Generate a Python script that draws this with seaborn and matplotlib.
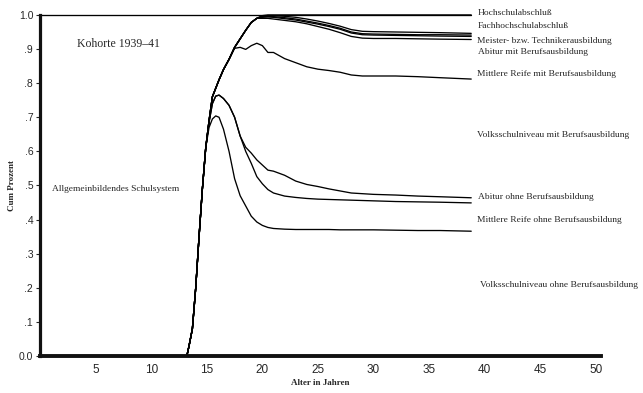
import matplotlib
matplotlib.use("Agg")
import matplotlib.pyplot as plt
import numpy as np
import pandas as pd
import seaborn as sns

# Alter in Jahren (gemeinsames Raster für alle kumulierten Kurven)
alter = [0, 13.2, 13.4, 13.7, 14.0, 14.3, 14.6, 14.9, 15.2, 15.5, 15.8, 16.1,
         16.5, 17.0, 17.5, 18.0, 18.5, 19.0, 19.5, 20.0, 20.5, 21, 22, 23, 24,
         25, 26, 27, 28, 29, 30, 32, 34, 36, 38.8]

# Kumulierte Anteile (Obergrenzen der Ausbildungsstufen), von unten nach oben
volksschule_ohne = [0, 0, 0.03, 0.08, 0.20, 0.35, 0.49, 0.61, 0.67, 0.695, 0.704, 0.70,
                    0.665, 0.60, 0.52, 0.47, 0.44, 0.41, 0.393, 0.383, 0.377, 0.374, 0.372, 0.371, 0.371,
                    0.371, 0.371, 0.370, 0.370, 0.370, 0.370, 0.369, 0.368, 0.368, 0.366]
mittlere_reife_ohne = [0, 0, 0.03, 0.08, 0.20, 0.35, 0.49, 0.61, 0.685, 0.74, 0.762, 0.765,
                       0.755, 0.735, 0.70, 0.645, 0.60, 0.565, 0.526, 0.505, 0.488, 0.478, 0.469, 0.465, 0.462,
                       0.460, 0.459, 0.458, 0.457, 0.456, 0.455, 0.453, 0.452, 0.451, 0.449]
abitur_ohne = [0, 0, 0.03, 0.08, 0.20, 0.35, 0.49, 0.61, 0.685, 0.74, 0.762, 0.765,
               0.755, 0.735, 0.70, 0.645, 0.612, 0.595, 0.575, 0.56, 0.545, 0.542, 0.53, 0.513, 0.503,
               0.497, 0.490, 0.484, 0.478, 0.476, 0.474, 0.472, 0.469, 0.467, 0.464]
volksschule_mit = [0, 0, 0.03, 0.08, 0.20, 0.35, 0.49, 0.61, 0.69, 0.76, 0.785, 0.81,
                   0.84, 0.87, 0.902, 0.905, 0.899, 0.91, 0.917, 0.91, 0.89, 0.89, 0.872, 0.86, 0.848,
                   0.841, 0.837, 0.832, 0.824, 0.821, 0.821, 0.821, 0.819, 0.816, 0.812]
mittlere_reife_mit = [0, 0, 0.03, 0.08, 0.20, 0.35, 0.49, 0.61, 0.69, 0.76, 0.785, 0.81,
                      0.84, 0.87, 0.905, 0.93, 0.955, 0.978, 0.99, 0.99, 0.99, 0.988, 0.984, 0.98, 0.974,
                      0.966, 0.958, 0.948, 0.937, 0.932, 0.931, 0.931, 0.930, 0.929, 0.928]
abitur_mit = [0, 0, 0.03, 0.08, 0.20, 0.35, 0.49, 0.61, 0.69, 0.76, 0.785, 0.81,
              0.84, 0.87, 0.905, 0.93, 0.955, 0.978, 0.99, 0.993, 0.994, 0.993, 0.989, 0.985, 0.979,
              0.973, 0.966, 0.958, 0.947, 0.942, 0.941, 0.940, 0.939, 0.938, 0.937]
meister_techniker = [0, 0, 0.03, 0.08, 0.20, 0.35, 0.49, 0.61, 0.69, 0.76, 0.785, 0.81,
                     0.84, 0.87, 0.905, 0.93, 0.955, 0.978, 0.99, 0.995, 0.996, 0.995, 0.992, 0.988, 0.982,
                     0.976, 0.969, 0.961, 0.950, 0.945, 0.944, 0.943, 0.942, 0.942, 0.941]
fachhochschule = [0, 0, 0.03, 0.08, 0.20, 0.35, 0.49, 0.61, 0.69, 0.76, 0.785, 0.81,
                  0.84, 0.87, 0.905, 0.93, 0.955, 0.978, 0.99, 0.997, 0.998, 0.998, 0.996, 0.993, 0.988,
                  0.982, 0.975, 0.967, 0.957, 0.952, 0.951, 0.950, 0.949, 0.948, 0.946]
hochschule = [0, 0, 0.03, 0.08, 0.20, 0.35, 0.49, 0.61, 0.69, 0.76, 0.785, 0.81,
              0.84, 0.87, 0.905, 0.93, 0.955, 0.978, 0.99, 0.998, 1.0, 1.0, 1.0, 1.0, 1.0,
              1.0, 1.0, 1.0, 1.0, 1.0, 1.0, 1.0, 1.0, 1.0, 1.0]
gesamt = 1.0

kurven = {
    "Volksschulniveau ohne Berufsausbildung": volksschule_ohne,
    "Mittlere Reife ohne Berufsausbildung": mittlere_reife_ohne,
    "Abitur ohne Berufsausbildung": abitur_ohne,
    "Volksschulniveau mit Berufsausbildung": volksschule_mit,
    "Mittlere Reife mit Berufsausbildung": mittlere_reife_mit,
    "Abitur mit Berufsausbildung": abitur_mit,
    "Meister- bzw. Technikerausbildung": meister_techniker,
    "Fachhochschulabschluß": fachhochschule,
    "Hochschulabschluß": hochschule,
}

# Beschriftungen am rechten Rand: (Text, Alter, Anteil)
rand_labels = [
    ("Hochschulabschluß", 39.35, 1.006),
    ("Fachhochschulabschluß", 39.35, 0.968),
    ("Meister- bzw. Technikerausbildung", 39.35, 0.924),
    ("Abitur mit Berufsausbildung", 39.45, 0.891),
    ("Mittlere Reife mit Berufsausbildung", 39.35, 0.827),
    ("Volksschulniveau mit Berufsausbildung", 39.35, 0.648),
    ("Abitur ohne Berufsausbildung", 39.45, 0.466),
    ("Mittlere Reife ohne Berufsausbildung", 39.35, 0.399),
    ("Volksschulniveau ohne Berufsausbildung", 39.6, 0.208),
]

x_ticks = [5, 10, 15, 20, 25, 30, 35, 40, 45, 50]
y_ticks = [0.0, 0.1, 0.2, 0.3, 0.4, 0.5, 0.6, 0.7, 0.8, 0.9, 1.0]
y_ticklabels = ["0.0", ".1", ".2", ".3", ".4", ".5", ".6", ".7", ".8", ".9", "1.0"]

df = pd.concat(
    [pd.DataFrame({"Alter": alter, "Anteil": werte, "Kurve": name})
     for name, werte in kurven.items()],
    ignore_index=True,
)

sns.set_style("white")
plt.rcParams["font.family"] = ["Liberation Sans", "DejaVu Sans"]

fig = plt.figure(figsize=(6.43, 3.93), dpi=100)
ax = fig.add_axes([0.0625, 0.094, 0.8725, 0.868])

sns.lineplot(data=df, x="Alter", y="Anteil", units="Kurve", estimator=None,
             color="black", lw=0.95, ax=ax, sort=False)
sns.lineplot(x=[alter[0], alter[-1]], y=[gesamt, gesamt], color="black",
             lw=0.95, ax=ax)
for line in ax.lines:
    line.set_clip_on(False)

ax.set_xlim(0, 50.5)
ax.set_ylim(0, 1.0)
ax.set_xticks(x_ticks)
ax.set_yticks(y_ticks)
ax.set_yticklabels(y_ticklabels)
ax.tick_params(axis="y", length=3, width=0.8, pad=2, labelsize=7.5, direction="out", left=True)
ax.tick_params(axis="x", length=0, pad=6, labelsize=8.5)

for s in ["top", "right"]:
    ax.spines[s].set_visible(False)
ax.spines["left"].set_linewidth(2.3)
ax.spines["bottom"].set_linewidth(2.8)
ax.spines["left"].set_color("#111111")
ax.spines["bottom"].set_color("#111111")

serif = ["Liberation Serif", "DejaVu Serif"]
ax.set_xlabel("Alter in Jahren", fontsize=6.5, family=serif, fontweight="bold", labelpad=2)
ax.set_ylabel("Cum Prozent", fontsize=6.5, family=serif, fontweight="bold", labelpad=2)

ax.text(3.3, 0.915, "Kohorte 1939–41", fontsize=8.5, family=serif,
        va="center", ha="left")
ax.text(1.06, 0.49, "Allgemeinbildendes Schulsystem", fontsize=6.8, family=serif,
        va="center", ha="left")
for txt, xa, ya in rand_labels:
    ax.text(xa, ya, txt, fontsize=6.8, family=serif, va="center", ha="left")

fig.savefig("out.png", dpi=100, facecolor="white")
